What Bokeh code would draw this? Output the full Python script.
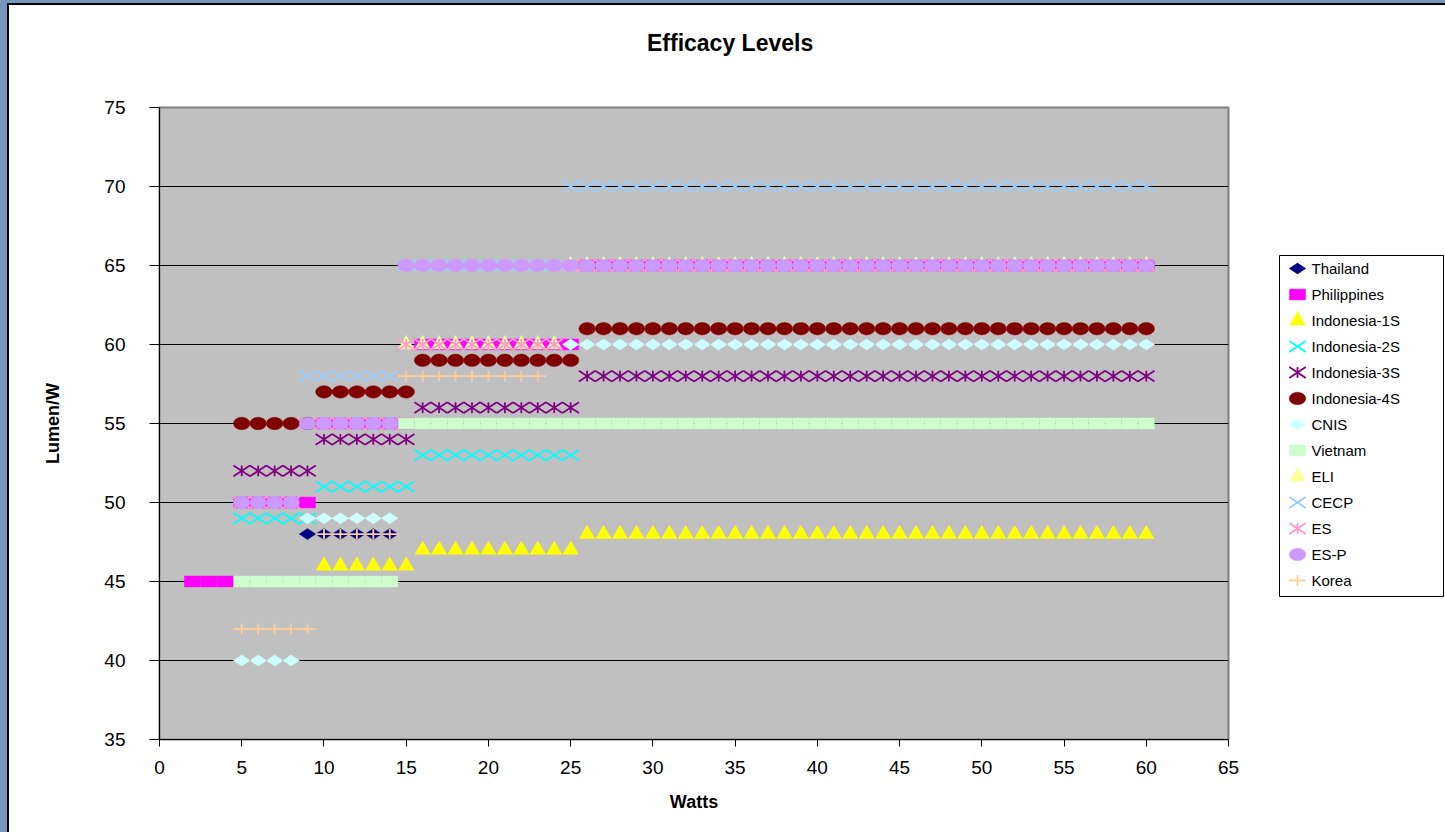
import math
from bokeh.plotting import figure
from bokeh.models import Range1d, FixedTicker
from bokeh.layouts import row, column
from bokeh.embed import file_html
from bokeh.resources import INLINE
from bokeh.core.properties import value

# ---------------- data (watt bands and efficacy levels) -------------
W_2_4 = [2, 3, 4]
W_5_8 = [5, 6, 7, 8]
W_5_9 = [5, 6, 7, 8, 9]
W_5_14 = [5, 6, 7, 8, 9, 10, 11, 12, 13, 14]
W_9_14 = [9, 10, 11, 12, 13, 14]
W_10_14 = [10, 11, 12, 13, 14]
W_10_15 = [10, 11, 12, 13, 14, 15]
W_15_23 = [15, 16, 17, 18, 19, 20, 21, 22, 23]
W_15_24 = [15, 16, 17, 18, 19, 20, 21, 22, 23, 24]
W_16_25 = [16, 17, 18, 19, 20, 21, 22, 23, 24, 25]
W_25_60 = [25, 26, 27, 28, 29, 30, 31, 32, 33, 34, 35, 36, 37, 38, 39, 40, 41, 42,
           43, 44, 45, 46, 47, 48, 49, 50, 51, 52, 53, 54, 55, 56, 57, 58, 59, 60]
W_26_60 = [26, 27, 28, 29, 30, 31, 32, 33, 34, 35, 36, 37, 38, 39, 40, 41, 42,
           43, 44, 45, 46, 47, 48, 49, 50, 51, 52, 53, 54, 55, 56, 57, 58, 59, 60]
W_15_60 = [15, 16, 17, 18, 19, 20, 21, 22, 23, 24] + W_25_60

thailand = [(W_9_14, 48)]
philippines = [(W_2_4, 45), (W_5_9, 50), (W_10_15, 55), (W_16_25, 60), (W_26_60, 65)]
indonesia_1s = [(W_10_15, 46), (W_16_25, 47), (W_26_60, 48)]
indonesia_2s = [(W_5_9, 49), (W_10_15, 51), (W_16_25, 53)]
indonesia_3s = [(W_5_9, 52), (W_10_15, 54), (W_16_25, 56), (W_26_60, 58)]
indonesia_4s = [(W_5_9, 55), (W_10_15, 57), (W_16_25, 59), (W_26_60, 61)]
cnis = [(W_5_8, 40), (W_9_14, 49), (W_25_60, 60)]
vietnam = [(W_5_14, 45), (W_15_60, 55)]
eli = [(W_15_24, 60), (W_25_60, 65)]
cecp = [(W_9_14, 58), (W_15_24, 65), (W_25_60, 70)]
es = [(W_5_8, 50), (W_9_14, 55), (W_15_24, 60), (W_25_60, 65)]
es_p = [(W_5_8, 50), (W_9_14, 55), (W_15_60, 65)]
korea = [(W_5_9, 42), (W_10_14, 48), (W_15_23, 58)]

series_names = ["Thailand", "Philippines", "Indonesia-1S", "Indonesia-2S", "Indonesia-3S",
                "Indonesia-4S", "CNIS", "Vietnam", "ELI", "CECP", "ES", "ES-P", "Korea"]
series_data = [thailand, philippines, indonesia_1s, indonesia_2s, indonesia_3s,
               indonesia_4s, cnis, vietnam, eli, cecp, es, es_p, korea]
series_markers = ["diamond", "square", "triangle", "x", "asterisk", "ellipse", "diamond",
                  "square", "triangle", "x", "asterisk", "ellipse", "cross"]
series_colors = ["#000080", "#FF00FF", "#FFFF00", "#00FFFF", "#800080", "#800000", "#CCFFFF",
                 "#CCFFCC", "#FFFF99", "#99CCFF", "#FF99CC", "#CC99FF", "#FFCC99"]

x_ticks = [0, 5, 10, 15, 20, 25, 30, 35, 40, 45, 50, 55, 60, 65]
y_ticks = [35, 40, 45, 50, 55, 60, 65, 70, 75]

TITLE = "Efficacy Levels"
FONT = "Liberation Sans"

# ---------------- marker drawing ----------------
MW, MH = 16.5, 10.8
X_ANG = math.atan2(MH, MW)
X_LEN = math.hypot(MW, MH)
LW_X = 1.8


def draw(fig, kind, xs, ys, color):
    if kind == "diamond":
        fig.scatter(xs, ys, marker="diamond", size=MW, angle=math.pi / 2,
                    fill_color=color, line_color=color, line_width=0.5)
    elif kind == "square":
        fig.rect(xs, ys, width=16.0, height=MH, width_units="screen", height_units="screen",
                 fill_color=color, line_color=color, line_width=0.5)
    elif kind == "triangle":
        fig.scatter(xs, ys, marker="triangle", size=15.5, fill_color=color,
                    line_color=color, line_width=0.5)
    elif kind == "ellipse":
        fig.ellipse(xs, ys, width=MW, height=12.5, width_units="screen",
                    height_units="screen", fill_color=color, line_color=color, line_width=0.5)
    elif kind in ("x", "asterisk"):
        fig.scatter(xs, ys, marker="dash", size=X_LEN, angle=X_ANG, line_color=color, line_width=LW_X)
        fig.scatter(xs, ys, marker="dash", size=X_LEN, angle=-X_ANG, line_color=color, line_width=LW_X)
        if kind == "asterisk":
            fig.scatter(xs, ys, marker="dash", size=MH, angle=math.pi / 2, line_color=color, line_width=LW_X)
    elif kind == "cross":
        fig.scatter(xs, ys, marker="dash", size=MW, angle=0, line_color=color, line_width=LW_X)
        fig.scatter(xs, ys, marker="dash", size=MH, angle=math.pi / 2, line_color=color, line_width=LW_X)


TOTAL_H = 827
TITLE_H = 60
MAIN_W = 1244
LEG_W = 192

# ---------------- title strip ----------------
tf = figure(width=MAIN_W, height=TITLE_H, x_range=Range1d(0, MAIN_W), y_range=Range1d(TITLE_H, 0),
            output_backend="svg", toolbar_location=None, x_axis_type=None, y_axis_type=None,
            min_border=0)
tf.outline_line_color = None
tf.background_fill_color = "white"
tf.border_fill_color = "white"
tf.xgrid.visible = False
tf.ygrid.visible = False
tf.text(x=[664], y=[37], text=[TITLE], text_align="center", text_baseline="middle",
        text_font=value(FONT), text_font_size="23px", text_font_style="bold", text_color="black")

# ---------------- main chart ----------------
p = figure(width=MAIN_W, height=TOTAL_H - TITLE_H, x_range=Range1d(0, 65), y_range=Range1d(35, 75),
           output_backend="svg", toolbar_location=None,
           min_border_left=150, min_border_right=25, min_border_top=42,
           min_border_bottom=TOTAL_H - TITLE_H - 42 - 632)
p.background_fill_color = "#C0C0C0"
p.border_fill_color = "white"
p.outline_line_color = "#808080"
p.outline_line_width = 2

p.xgrid.visible = False
p.ygrid.ticker = FixedTicker(ticks=y_ticks)
p.ygrid.grid_line_color = "black"
p.ygrid.grid_line_width = 1

p.xaxis.ticker = FixedTicker(ticks=x_ticks)
p.yaxis.ticker = FixedTicker(ticks=y_ticks)
for ax in (p.xaxis, p.yaxis):
    ax.axis_line_color = "black"
    ax.major_tick_line_color = "black"
    ax.minor_tick_line_color = None
    ax.major_tick_in = 0
    ax.major_label_text_font = FONT
    ax.major_label_text_font_size = "19px"
    ax.major_label_text_color = "black"
    ax.axis_label_text_font = FONT
    ax.axis_label_text_font_size = "18px"
    ax.axis_label_text_font_style = "bold"
    ax.axis_label_text_color = "black"
p.xaxis.major_tick_out = 7
p.yaxis.major_tick_out = 10
p.xaxis.major_label_standoff = 14
p.yaxis.major_label_standoff = 24
p.xaxis.axis_label = "Watts"
p.yaxis.axis_label = "Lumen/W"
p.xaxis.axis_label_standoff = 15
p.yaxis.axis_label_standoff = 38

for data, kind, color in zip(series_data, series_markers, series_colors):
    xs, ys = [], []
    for band, level in data:
        xs.extend(band)
        ys.extend([level] * len(band))
    draw(p, kind, xs, ys, color)

# ---------------- legend (separate panel) ----------------
lg = figure(width=LEG_W, height=TOTAL_H, x_range=Range1d(0, LEG_W), y_range=Range1d(TOTAL_H, 0),
            output_backend="svg", toolbar_location=None, x_axis_type=None, y_axis_type=None,
            min_border=0)
lg.outline_line_color = None
lg.background_fill_color = "white"
lg.border_fill_color = "white"
lg.xgrid.visible = False
lg.ygrid.visible = False

box_top, step = 250, 26
lg.quad(left=[26], right=[LEG_W - 2], top=[box_top], bottom=[box_top + 341],
        fill_color="white", line_color="black", line_width=1)
item_y = [box_top + 13 + step * i for i in range(len(series_names))]
for i, (kind, color) in enumerate(zip(series_markers, series_colors)):
    draw(lg, kind, [44], [item_y[i]], color)
lg.text(x=[58] * len(series_names), y=item_y, text=series_names, text_baseline="middle",
        text_align="left", text_font=value(FONT), text_font_size="15px", text_color="black")

inner = row(column(tf, p), lg,
            styles={"border-left": "2px solid black", "border-top": "2px solid black"})
layout = row(inner, styles={"border-left": "7px solid #7796bd", "border-top": "3px solid #7796bd"})

open("out.html", "w").write(file_html(layout, INLINE))
